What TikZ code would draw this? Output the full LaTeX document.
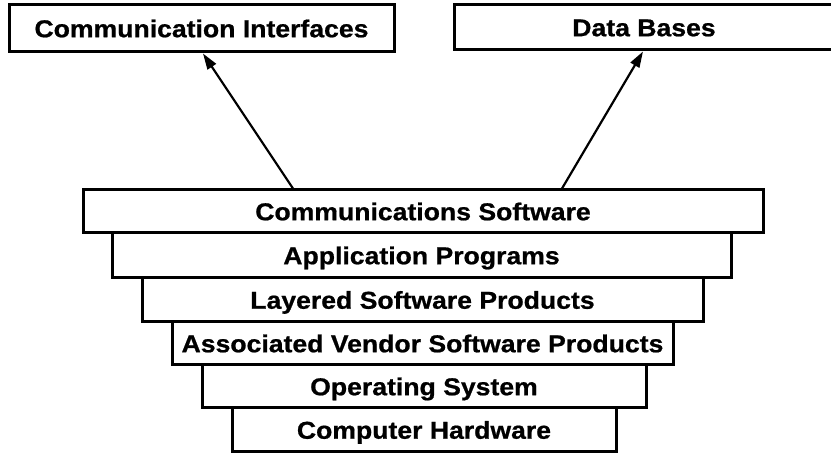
\documentclass[tikz,border=0pt]{standalone}
\usepackage{fontspec}
\setmainfont[FakeStretch=1.09,FakeBold=0.8]{Liberation Sans}
\usetikzlibrary{arrows.meta}
\begin{document}
\begin{tikzpicture}[x=1pt,y=-1pt,
  box/.style={draw=black,line width=3pt,fill=white,inner sep=0pt,
    font=\fontsize{24.4}{29}\selectfont\bfseries,
    text height=17.5pt,text depth=0pt},
  arr/.style={line width=2.2pt,-{Triangle[length=16pt,width=10pt]}}]
\useasboundingbox (0,0) rectangle (831,454);
% top boxes
\node[box,minimum width=385pt,minimum height=47pt] (ci) at (201.5,28.5) {Communication Interfaces};
\node[box,minimum width=380pt,minimum height=45pt] (db) at (644,27.5) {Data Bases};
% layered stack
\node[box,minimum width=680pt,minimum height=43pt] (cs) at (423,211.5) {Communications Software};
\node[box,minimum width=619pt,minimum height=45pt] (ap) at (421.5,255.5) {Application Programs};
\node[box,minimum width=561pt,minimum height=44pt] (ls) at (422.5,300) {Layered Software Products};
\node[box,minimum width=501pt,minimum height=43pt] (av) at (422.5,343.5) {Associated Vendor Software Products};
\node[box,minimum width=444pt,minimum height=43pt] (os) at (424,386.5) {Operating System};
\node[box,minimum width=384pt,minimum height=44pt] (ch) at (424,430) {Computer Hardware};
% arrows
\draw[arr] ([xshift=-130pt]cs.north) -- ([xshift=1.5pt]ci.south);
\draw[arr] ([xshift=139pt]cs.north) -- ([xshift=-1pt]db.south);
\end{tikzpicture}
\end{document}
